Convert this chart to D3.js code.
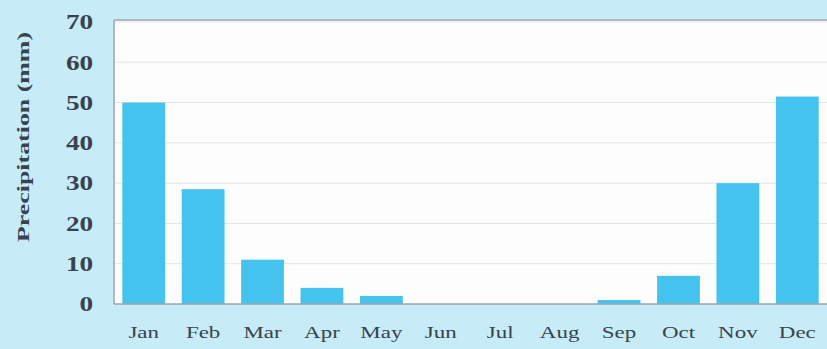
<!DOCTYPE html>
<html>
<head>
<meta charset="utf-8">
<script src="https://cdn.jsdelivr.net/npm/d3@7"></script>
<style>
  body { margin: 0; background: #c8ebf8; }
  .grid line { stroke: #e4e4e4; }
  .axis text { font-family: "Liberation Serif", serif; fill: #37444f; }
</style>
</head>
<body>
<svg id="chart"></svg>
<script>
// data
const months = ["Jan", "Feb", "Mar", "Apr", "May", "Jun", "Jul", "Aug", "Sep", "Oct", "Nov", "Dec"];
const precip = [50, 28.5, 11, 4, 2, 0, 0, 0, 1, 7, 30, 51.5];
const yTicks = [0, 10, 20, 30, 40, 50, 60, 70];

const W = 827, H = 349;
const margin = { top: 22, right: 0, bottom: 45, left: 114 };
const width = W - margin.left - margin.right;
const height = H - margin.top - margin.bottom;

const svg = d3.select("#chart").attr("width", W).attr("height", H);

const x = d3.scaleBand()
  .domain(months)
  .range([0, width])
  .paddingInner(0.28)
  .paddingOuter(0.14);

const y = d3.scaleLinear()
  .domain([0, 70])
  .range([height, 0]);

const g = svg.append("g")
  .attr("transform", "translate(" + margin.left + "," + margin.top + ")");

// plot background
g.append("rect")
  .attr("x", 0).attr("y", -2)
  .attr("width", width).attr("height", height + 2)
  .attr("fill", "#fdfdfd");

// gridlines
g.append("g")
  .attr("class", "grid")
  .selectAll("line")
  .data(yTicks.filter(d => d > 0))
  .join("line")
  .attr("x1", 0).attr("x2", width)
  .attr("y1", d => y(d)).attr("y2", d => y(d));

// border top + left
g.append("line").attr("x1", 0).attr("x2", width).attr("y1", -2).attr("y2", -2)
  .attr("stroke", "#aeb8bd").attr("stroke-width", 2);
g.append("line").attr("x1", 0).attr("x2", 0).attr("y1", -2).attr("y2", height)
  .attr("stroke", "#aeb8bd").attr("stroke-width", 2);

// bars
g.selectAll(".bar")
  .data(precip)
  .join("rect")
  .attr("class", "bar")
  .attr("x", (d, i) => x(months[i]))
  .attr("y", d => y(d))
  .attr("width", x.bandwidth())
  .attr("height", d => height - y(d))
  .attr("fill", "#45c3ef");

// baseline
g.append("line").attr("x1", 0).attr("x2", width).attr("y1", height).attr("y2", height)
  .attr("stroke", "#9aa6ad").attr("stroke-width", 1.5);

// y axis - text is stretched wide in the original
const yAxis = g.append("g")
  .attr("class", "axis")
  .call(d3.axisLeft(y).tickValues(yTicks).tickSize(0).tickPadding(16));
yAxis.select(".domain").remove();
yAxis.selectAll("text")
  .attr("font-size", 21)
  .attr("font-weight", "bold")
  .attr("transform", "scale(1.3,1)");

// x axis
const xAxis = g.append("g")
  .attr("class", "axis")
  .attr("transform", "translate(0," + height + ")")
  .call(d3.axisBottom(x).tickSize(0).tickPadding(22));
xAxis.select(".domain").remove();
xAxis.selectAll("text")
  .attr("font-size", 17)
  .attr("transform", "scale(1.35,1)");

// y label
svg.append("text")
  .attr("transform", "translate(29,137) rotate(-90)")
  .attr("text-anchor", "middle")
  .attr("font-family", "Liberation Serif, serif")
  .attr("font-size", 17)
  .attr("font-weight", "bold")
  .attr("fill", "#37444f")
  .attr("textLength", 210)
  .attr("lengthAdjust", "spacingAndGlyphs")
  .text("Precipitation (mm)");
</script>
</body>
</html>
